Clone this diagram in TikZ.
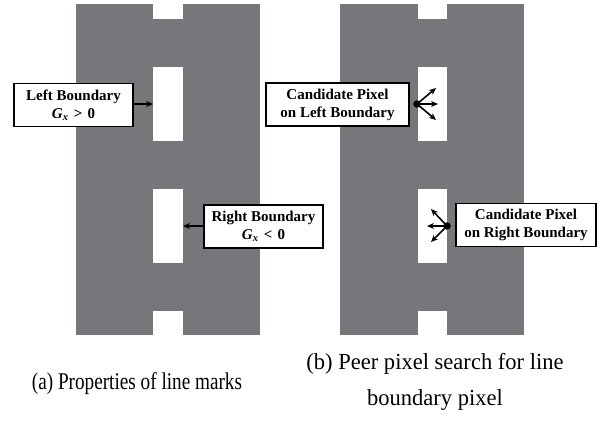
\documentclass[tikz,border=0pt]{standalone}
\usepackage{fontspec}
\setmainfont{Liberation Serif}
\newfontfamily\capafont[FakeStretch=0.8]{Liberation Serif}
\newfontfamily\capbfont[FakeStretch=0.98]{Liberation Serif}
\usetikzlibrary{arrows.meta}
\definecolor{road}{RGB}{118,119,123}
\newcommand{\gxrel}[1]{\textit{G}\textsubscript{\textit{x}}\hspace{0.35em}#1\hspace{0.35em}0}
\begin{document}
\begin{tikzpicture}[x=1pt,y=-1pt,
  roadfill/.style={fill=road,draw=none},
  gapfill/.style={fill=white,draw=none},
  labelbox/.style={draw=black,line width=1.8pt,fill=white,inner sep=0pt,align=center,font=\fontsize{15}{18}\selectfont\bfseries},
  pointer/.style={-{Stealth[length=7pt,width=6pt]},line width=1.6pt,black},
  search/.style={-{Stealth[length=7pt,width=6pt]},line width=1.6pt,black},
  captiona/.style={align=center,font=\capafont\fontsize{24}{36}\selectfont},
  captionb/.style={align=center,font=\capbfont\fontsize{23}{36}\selectfont}]
\useasboundingbox (0,0) rectangle (600,421);
% road (a)
\fill[roadfill] (76,4) rectangle (260,335);
\fill[gapfill] (153,4) rectangle (183,19);
\fill[gapfill] (153,67) rectangle (183,141);
\fill[gapfill] (153,189) rectangle (183,263);
\fill[gapfill] (153,311) rectangle (183,335);
\coordinate (aL) at (153,104);
\coordinate (aR) at (183,226);
% road (b)
\fill[roadfill] (340,4) rectangle (524,335);
\fill[gapfill] (418,4) rectangle (447,19);
\fill[gapfill] (418,67) rectangle (447,141);
\fill[gapfill] (418,189) rectangle (447,263);
\fill[gapfill] (418,311) rectangle (447,335);
% labels (a)
\node[labelbox,minimum width=119pt,minimum height=43pt] (lb) at (73.5,105) {Left Boundary\\\gxrel{>}};
\node[labelbox,minimum width=119pt,minimum height=43pt] (rb) at (263.5,226.5) {Right Boundary\\\gxrel{<}};
\draw[pointer] (lb.east |- aL) -- (aL);
\draw[pointer] (rb.west |- aR) -- (aR);
% labels (b)
\node[labelbox,minimum width=143pt,minimum height=43pt] (cl) at (337.5,104.5) {Candidate Pixel\\on Left Boundary};
\node[labelbox,minimum width=140pt,minimum height=43pt] (cr) at (526,225) {Candidate Pixel\\on Right Boundary};
% search points
\node[circle,fill=black,inner sep=0pt,minimum size=7.5pt] (pl) at (417,104) {};
\coordinate (pl1) at (436,88);
\coordinate (pl2) at (438,104);
\coordinate (pl3) at (436,120);
\draw[search] (pl.center) -- (pl1);
\draw[search] (pl.center) -- (pl2);
\draw[search] (pl.center) -- (pl3);
\node[circle,fill=black,inner sep=0pt,minimum size=7.5pt] (pr) at (447,226) {};
\coordinate (pr1) at (431,209);
\coordinate (pr2) at (427,226);
\coordinate (pr3) at (431,242);
\draw[search] (pr.center) -- (pr1);
\draw[search] (pr.center) -- (pr2);
\draw[search] (pr.center) -- (pr3);
% captions
\node[captiona] (capa) at (137,384) {(a) Properties of line marks};
\node[captionb] (capb) at (435,382) {(b) Peer pixel search for line\\boundary pixel};
\end{tikzpicture}
\end{document}
